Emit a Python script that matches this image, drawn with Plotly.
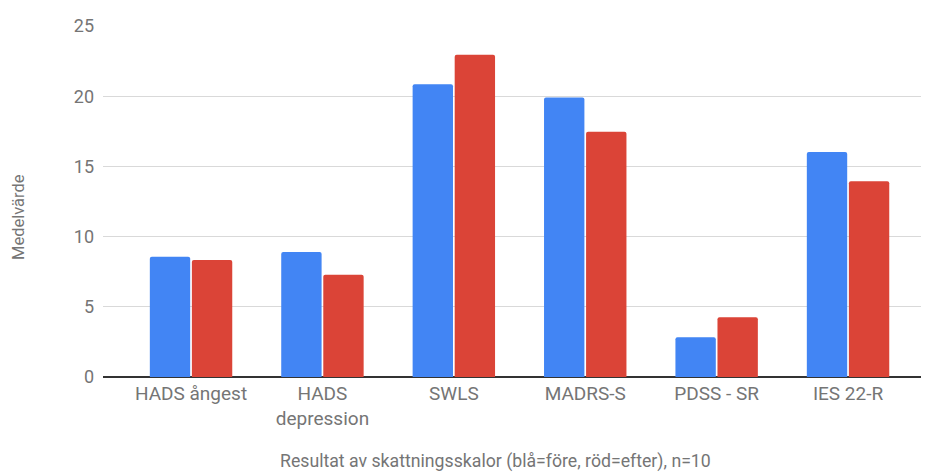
import plotly.graph_objects as go

categories = ["HADS ångest", "HADS<br>depression", "SWLS", "MADRS-S", "PDSS - SR", "IES 22-R"]
fore = [8.57, 8.9, 20.85, 19.9, 2.83, 16.03]
efter = [8.33, 7.29, 22.96, 17.47, 4.25, 13.94]
y_ticks = [0, 5, 10, 15, 20, 25]

W, H = 929, 474
OFF = 8  # default page body margin
L, R, T, B = 103 - OFF, 0, 26 - OFF, 474 - (377 - OFF)
FONT = "Roboto"
GRAY = "#757575"

fig = go.Figure()
fig.add_trace(go.Bar(x=list(range(len(categories))), y=fore, name="före",
                     marker=dict(color="#4285F4", cornerradius=2, line=dict(width=0))))
fig.add_trace(go.Bar(x=list(range(len(categories))), y=efter, name="efter",
                     marker=dict(color="#DB4437", cornerradius=2, line=dict(width=0))))

fig.update_layout(
    width=W, height=H,
    margin=dict(l=L, r=R, t=T, b=B),
    paper_bgcolor="white", plot_bgcolor="white",
    showlegend=False,
    barmode="group", bargap=0.36, bargroupgap=0.04,
    font=dict(family=FONT, color=GRAY, size=18),
)
fig.update_xaxes(
    tickmode="array", tickvals=list(range(len(categories))), ticktext=categories,
    range=[-0.67, 5.677], showgrid=False, showline=False, zeroline=False,
    tickfont=dict(size=19, color=GRAY), ticks="", ticklabelstandoff=3,
)
fig.update_yaxes(
    range=[0, 25], tickvals=y_ticks, showgrid=True, gridcolor="#d9d9d9", gridwidth=1,
    zeroline=True, zerolinecolor="#333333", zerolinewidth=2, showline=False,
    tickfont=dict(size=18, color=GRAY), ticklabelstandoff=8,
)
plot_h = H - T - B
plot_w = W - L - R
fig.add_annotation(text="Medelvärde", textangle=-90, xref="paper", yref="paper",
                   x=(18 - OFF - L) / plot_w, y=(H - B - (217 - OFF)) / plot_h,
                   xanchor="center", yanchor="middle",
                   showarrow=False, font=dict(size=16.5, color=GRAY))
fig.add_annotation(text="Resultat av skattningsskalor (blå=före, röd=efter), n=10",
                   xref="paper", yref="paper",
                   x=(495 - OFF - L) / plot_w, y=(H - B - (462 - OFF)) / plot_h,
                   xanchor="center", yanchor="middle",
                   showarrow=False, font=dict(size=17.7, color=GRAY))
fig.write_html("out.html")
